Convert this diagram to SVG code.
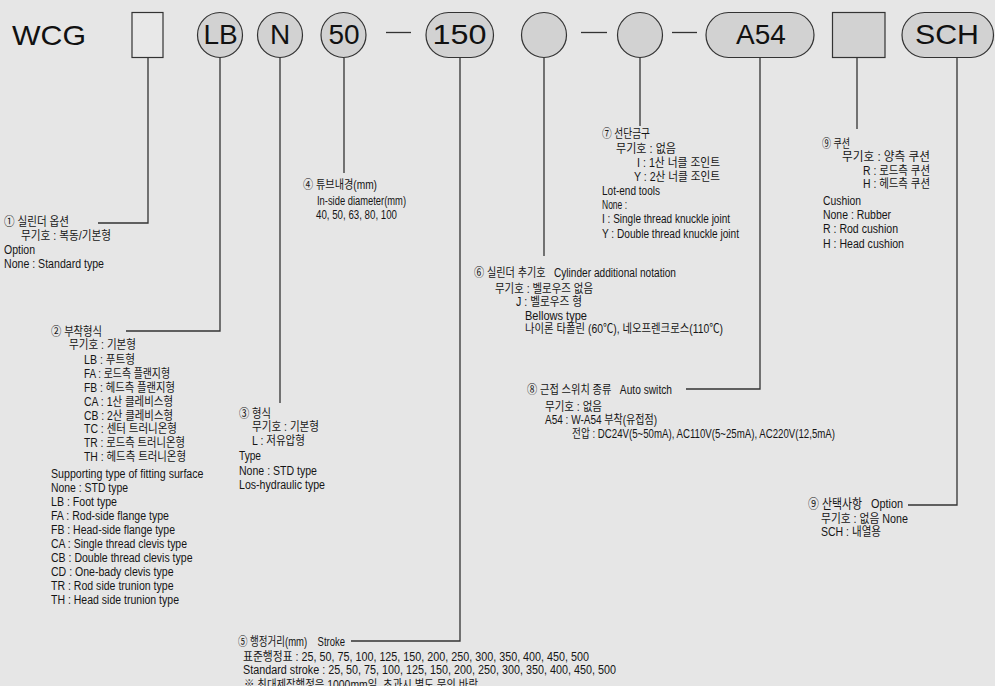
<svg xmlns="http://www.w3.org/2000/svg" width="995" height="686" viewBox="0 0 995 686">
<style>
.bg{fill:#e6e6e6}
.n{fill:#d2d2d2;stroke:#333;stroke-width:1.2}
.nw{fill:#e8e8e8;stroke:#333;stroke-width:1.2}
.lb{font-family:"Liberation Sans",Arial,sans-serif;font-size:28px;fill:#111;text-anchor:middle}
.c{fill:none;stroke:#333;stroke-width:1.3}
.t{font-family:"Liberation Sans","Noto Sans CJK KR",sans-serif;font-size:12px;fill:#151515}
.h{font-size:12.5px}
</style>
<rect class="bg" x="0" y="0" width="995" height="686"/>

<g id="connectors">
<polyline class="c" points="148,58 148,223 98,223"/>
<polyline class="c" points="220,58 220,331 126,331"/>
<polyline class="c" points="280,58 280,403"/>
<polyline class="c" points="344,58 344,173"/>
<polyline class="c" points="460,58 460,641 351,641"/>
<polyline class="c" points="544,58 544,256"/>
<polyline class="c" points="640,58 640,126"/>
<polyline class="c" points="760,58 760,389 686,389"/>
<polyline class="c" points="857,58 857,129"/>
<polyline class="c" points="957,58 957,505 908,505"/>
<line class="c" x1="386" y1="32.5" x2="411" y2="32.5"/>
<line class="c" x1="581" y1="32.5" x2="607" y2="32.5"/>
<line class="c" x1="672" y1="32.5" x2="697" y2="32.5"/>
</g>

<g id="code">
<text class="lb" x="49" y="45" textLength="74" lengthAdjust="spacingAndGlyphs">WCG</text>
</g>
<g id="node-option"><rect class="nw" x="132" y="12.5" width="31" height="45"/></g>
<g id="node-lb"><circle class="n" cx="220" cy="35" r="22.5"/><text class="lb" x="220.5" y="43.5">LB</text></g>
<g id="node-n"><circle class="n" cx="280" cy="35" r="22.5"/><text class="lb" x="280" y="43.5">N</text></g>
<g id="node-50"><circle class="n" cx="343.5" cy="35" r="22.5"/><text class="lb" x="344" y="43.5">50</text></g>
<g id="node-150"><rect class="n" x="426" y="12.5" width="67.5" height="45" rx="22.5"/><text class="lb" x="459.5" y="43.5" textLength="54" lengthAdjust="spacingAndGlyphs">150</text></g>
<g id="node-add"><circle class="n" cx="544" cy="35" r="22.5"/></g>
<g id="node-end"><circle class="n" cx="640" cy="35" r="22.5"/></g>
<g id="node-a54"><rect class="n" x="706" y="12.5" width="108" height="45" rx="22.5"/><text class="lb" x="761" y="43.5">A54</text></g>
<g id="node-cushion"><rect class="n" x="832.5" y="12.5" width="52.5" height="45"/></g>
<g id="node-sch"><rect class="n" x="902" y="12.5" width="91.5" height="45" rx="22.5"/><text class="lb" x="947" y="43.5" textLength="64" lengthAdjust="spacingAndGlyphs">SCH</text></g>

<g id="block1" class="t">
<text class="h" x="4" y="226" textLength="65" lengthAdjust="spacingAndGlyphs">① 실린더 옵션</text>
<text x="21" y="240" textLength="90" lengthAdjust="spacingAndGlyphs">무기호 : 복동/기본형</text>
<text x="4" y="254" textLength="31" lengthAdjust="spacingAndGlyphs">Option</text>
<text x="4" y="268" textLength="100" lengthAdjust="spacingAndGlyphs">None : Standard type</text>
</g>

<g id="block2" class="t">
<text class="h" x="51" y="336" textLength="51" lengthAdjust="spacingAndGlyphs">② 부착형식</text>
<text x="69" y="349" textLength="67" lengthAdjust="spacingAndGlyphs">무기호 : 기본형</text>
<text x="84" y="364" textLength="51" lengthAdjust="spacingAndGlyphs">LB : 푸트형</text>
<text x="84" y="378" textLength="86" lengthAdjust="spacingAndGlyphs">FA : 로드측 플랜지형</text>
<text x="84" y="392" textLength="91" lengthAdjust="spacingAndGlyphs">FB : 헤드측 플랜지형</text>
<text x="84" y="406" textLength="89" lengthAdjust="spacingAndGlyphs">CA : 1산 클레비스형</text>
<text x="84" y="420" textLength="89" lengthAdjust="spacingAndGlyphs">CB : 2산 클레비스형</text>
<text x="84" y="433" textLength="93" lengthAdjust="spacingAndGlyphs">TC : 센터 트러니온형</text>
<text x="84" y="447" textLength="101" lengthAdjust="spacingAndGlyphs">TR : 로드측 트러니온형</text>
<text x="84" y="461" textLength="102" lengthAdjust="spacingAndGlyphs">TH : 헤드측 트러니온형</text>
<text x="51" y="478" textLength="152.5" lengthAdjust="spacingAndGlyphs">Supporting type of fitting surface</text>
<text x="51" y="492" textLength="77" lengthAdjust="spacingAndGlyphs">None : STD type</text>
<text x="51" y="506" textLength="66" lengthAdjust="spacingAndGlyphs">LB : Foot type</text>
<text x="51" y="520" textLength="118" lengthAdjust="spacingAndGlyphs">FA : Rod-side flange type</text>
<text x="51" y="534" textLength="124" lengthAdjust="spacingAndGlyphs">FB : Head-side flange type</text>
<text x="51" y="548" textLength="136" lengthAdjust="spacingAndGlyphs">CA : Single thread clevis type</text>
<text x="51" y="562" textLength="141.5" lengthAdjust="spacingAndGlyphs">CB : Double thread clevis type</text>
<text x="51" y="576" textLength="122.5" lengthAdjust="spacingAndGlyphs">CD : One-bady clevis type</text>
<text x="51" y="590" textLength="122.5" lengthAdjust="spacingAndGlyphs">TR : Rod side trunion type</text>
<text x="51" y="604" textLength="128" lengthAdjust="spacingAndGlyphs">TH : Head side trunion type</text>
</g>

<g id="block3" class="t">
<text class="h" x="239" y="417.5" textLength="32" lengthAdjust="spacingAndGlyphs">③ 형식</text>
<text x="252" y="431" textLength="67" lengthAdjust="spacingAndGlyphs">무기호 : 기본형</text>
<text x="252" y="445" textLength="53" lengthAdjust="spacingAndGlyphs">L : 저유압형</text>
<text x="239" y="460" textLength="22" lengthAdjust="spacingAndGlyphs">Type</text>
<text x="239" y="475" textLength="78" lengthAdjust="spacingAndGlyphs">None : STD type</text>
<text x="239" y="489" textLength="86" lengthAdjust="spacingAndGlyphs">Los-hydraulic type</text>
</g>

<g id="block4" class="t">
<text class="h" x="303" y="189" textLength="74" lengthAdjust="spacingAndGlyphs">④ 튜브내경(mm)</text>
<text x="317" y="205" textLength="89" lengthAdjust="spacingAndGlyphs">In-side diameter(mm)</text>
<text x="316" y="219" textLength="81" lengthAdjust="spacingAndGlyphs">40, 50, 63, 80, 100</text>
</g>

<g id="block5" class="t">
<text x="238" y="646" textLength="107" lengthAdjust="spacingAndGlyphs">⑤ 행정거리(mm)&#160;&#160;&#160;&#160;Stroke</text>
<text x="243" y="661" textLength="346" lengthAdjust="spacingAndGlyphs">표준행정표 : 25, 50, 75, 100, 125, 150, 200, 250, 300, 350, 400, 450, 500</text>
<text x="243" y="674" textLength="373" lengthAdjust="spacingAndGlyphs">Standard stroke : 25, 50, 75, 100, 125, 150, 200, 250, 300, 350, 400, 450, 500</text>
<text x="244" y="689" textLength="234" lengthAdjust="spacingAndGlyphs">※ 최대제작행정은 1000mm임, 초과시 별도 문의 바람</text>
</g>

<g id="block6" class="t">
<text x="474" y="276.5" textLength="202" lengthAdjust="spacingAndGlyphs">⑥ 실린더 추기호&#160;&#160;&#160;Cylinder additional notation</text>
<text x="495" y="292.5" textLength="98" lengthAdjust="spacingAndGlyphs">무기호 : 벨로우즈 없음</text>
<text x="516" y="306" textLength="66" lengthAdjust="spacingAndGlyphs">J : 벨로우즈 형</text>
<text x="525" y="320" textLength="62" lengthAdjust="spacingAndGlyphs">Bellows type</text>
<text x="525" y="333" textLength="198" lengthAdjust="spacingAndGlyphs">나이론 타폴린 (60℃), 네오프렌크로스(110℃)</text>
</g>

<g id="block7" class="t">
<text class="h" x="602" y="138" textLength="48" lengthAdjust="spacingAndGlyphs">⑦ 선단금구</text>
<text x="616" y="152.5" textLength="60" lengthAdjust="spacingAndGlyphs">무기호 : 없음</text>
<text x="637" y="166.5" textLength="83" lengthAdjust="spacingAndGlyphs">I : 1산 너클 조인트</text>
<text x="634" y="181" textLength="86" lengthAdjust="spacingAndGlyphs">Y : 2산 너클 조인트</text>
<text x="602" y="195" textLength="58" lengthAdjust="spacingAndGlyphs">Lot-end tools</text>
<text x="602" y="209" textLength="25" lengthAdjust="spacingAndGlyphs">None :</text>
<text x="602" y="223" textLength="128" lengthAdjust="spacingAndGlyphs">I : Single thread knuckle joint</text>
<text x="602" y="237.5" textLength="137" lengthAdjust="spacingAndGlyphs">Y : Double thread knuckle joint</text>
</g>

<g id="block8" class="t">
<text x="527" y="394" textLength="145" lengthAdjust="spacingAndGlyphs">⑧ 근접 스위치 종류&#160;&#160;&#160;Auto switch</text>
<text x="545" y="411" textLength="57" lengthAdjust="spacingAndGlyphs">무기호 : 없음</text>
<text x="545" y="424" textLength="112" lengthAdjust="spacingAndGlyphs">A54 : W-A54 부착(유접점)</text>
<text x="572" y="438" textLength="263" lengthAdjust="spacingAndGlyphs">전압 : DC24V(5~50mA), AC110V(5~25mA), AC220V(12,5mA)</text>
</g>

<g id="block9" class="t">
<text class="h" x="822" y="147.5" textLength="28" lengthAdjust="spacingAndGlyphs">⑨ 쿠션</text>
<text x="842" y="161" textLength="88" lengthAdjust="spacingAndGlyphs">무기호 : 양측 쿠션</text>
<text x="863" y="175" textLength="67" lengthAdjust="spacingAndGlyphs">R : 로드측 쿠션</text>
<text x="863" y="188" textLength="67" lengthAdjust="spacingAndGlyphs">H : 헤드측 쿠션</text>
<text x="823" y="205" textLength="38" lengthAdjust="spacingAndGlyphs">Cushion</text>
<text x="823" y="219" textLength="68" lengthAdjust="spacingAndGlyphs">None : Rubber</text>
<text x="823" y="233" textLength="75" lengthAdjust="spacingAndGlyphs">R : Rod cushion</text>
<text x="823" y="247.5" textLength="81" lengthAdjust="spacingAndGlyphs">H : Head cushion</text>
</g>

<g id="block10" class="t">
<text x="808" y="508" style="font-size:13px" textLength="95" lengthAdjust="spacingAndGlyphs">⑨ 산택사항&#160;&#160;&#160;Option</text>
<text x="821" y="522.5" textLength="87" lengthAdjust="spacingAndGlyphs">무기호 : 없음 None</text>
<text x="821" y="536" textLength="60" lengthAdjust="spacingAndGlyphs">SCH : 내열용</text>
</g>
</svg>
